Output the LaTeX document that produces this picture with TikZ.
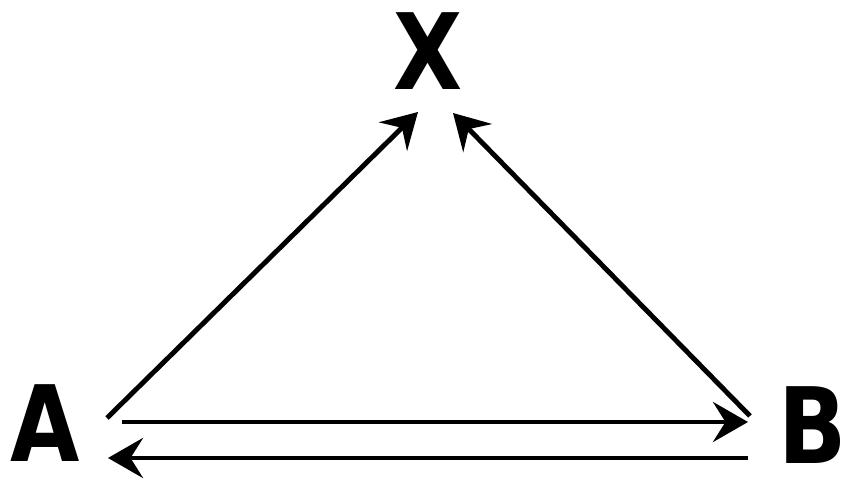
\documentclass[tikz,border=0pt]{standalone}
\usepackage{fontspec}
\newfontfamily\letterfont{DejaVu Sans}
\usetikzlibrary{arrows.meta}

\begin{document}
\begin{tikzpicture}[
  letter/.style={inner sep=0pt,xscale=0.85,font=\letterfont\bfseries\fontsize{60}{60}\selectfont},
  link/.style={line width=2.8pt,-{Stealth[length=7mm,width=8mm,inset=2.5mm]}}
]
  \useasboundingbox (0,0) rectangle (16.82,9.58);
  \node[letter] (X) at (8.56,8.56) {X};
  \node[letter] (A) at (0.9,1.12) {A};
  \node[letter] (B) at (16.26,1.08) {B};

  \draw[link] ([shift={(1.24,0.10)}]A.center) -- ([shift={(-0.2,-1.22)}]X.center);
  \draw[link] ([shift={(-1.26,0.18)}]B.center) -- ([shift={(0.5,-1.24)}]X.center);
  \draw[link] ([shift={(1.54,0.02)}]A.center) -- ([shift={(-1.3,0.06)}]B.center);
  \draw[link] ([shift={(-1.3,-0.66)}]B.center) -- ([shift={(1.26,-0.70)}]A.center);
\end{tikzpicture}
\end{document}
